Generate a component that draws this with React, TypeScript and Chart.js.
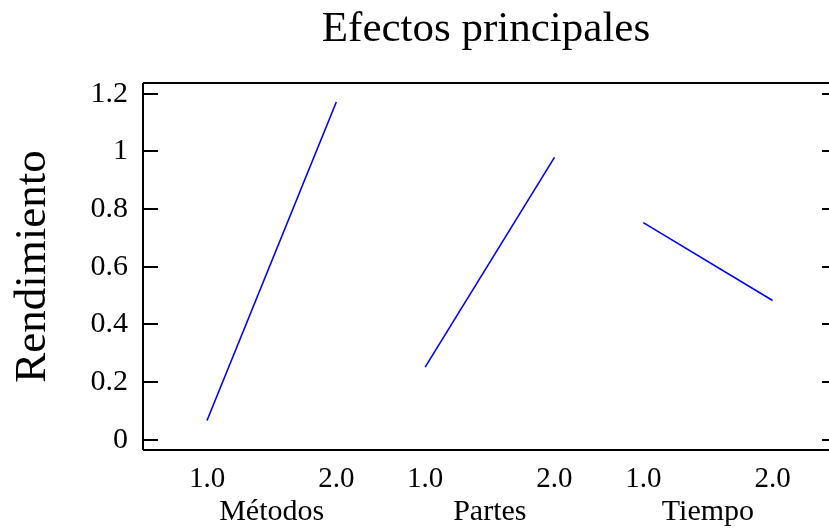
import React, { useEffect, useRef } from "react";
import { Chart, registerables } from "chart.js";

Chart.register(...registerables);

const TITLE = "Efectos principales";
const Y_TITLE = "Rendimiento";
const factors = ["Métodos", "Partes", "Tiempo"];
const levels = [1.0, 2.0];
const levelLabels = ["1.0", "2.0"];
const metodos = [0.067, 1.171];
const partes = [0.252, 0.979];
const tiempo = [0.753, 0.483];
const yTicks = [0, 0.2, 0.4, 0.6, 0.8, 1, 1.2];
const yTickLabels = ["0", "0.2", "0.4", "0.6", "0.8", "1", "1.2"];

const GAP = 1.687;
const FONT = "'Liberation Serif', 'Times New Roman', serif";
const seriesList = [metodos, partes, tiempo];

const framePlugin = {
  id: "frame",
  afterDraw(chart: any) {
    const { ctx, chartArea } = chart;
    const { left, right, top, bottom } = chartArea;
    const y = chart.scales.y;
    const x = chart.scales.x;
    ctx.save();
    ctx.strokeStyle = "#000";
    ctx.lineWidth = 2;
    ctx.beginPath();
    ctx.moveTo(left, top);
    ctx.lineTo(right, top);
    ctx.moveTo(left, top);
    ctx.lineTo(left, bottom);
    ctx.moveTo(left, bottom);
    ctx.lineTo(right, bottom);
    yTicks.forEach((v) => {
      const py = Math.round(y.getPixelForValue(v));
      ctx.moveTo(left, py);
      ctx.lineTo(left + 15, py);
      ctx.moveTo(right - 7, py);
      ctx.lineTo(right, py);
    });
    ctx.stroke();
    ctx.fillStyle = "#000";
    ctx.font = `30px ${FONT}`;
    ctx.textAlign = "center";
    ctx.textBaseline = "alphabetic";
    factors.forEach((f, i) => {
      const a = x.getPixelForValue(levels[0] + i * GAP);
      const b = x.getPixelForValue(levels[1] + i * GAP);
      ctx.fillText(f, (a + b) / 2, 520);
    });
    ctx.restore();
  },
};

export default function App() {
  const ref = useRef<HTMLCanvasElement | null>(null);
  useEffect(() => {
    if (!ref.current) return;
    const datasets = seriesList.map((s, i) => ({
      label: factors[i],
      data: s.map((v, j) => ({ x: levels[j] + i * GAP, y: v })),
      borderColor: "#0000ff",
      borderWidth: 1.6,
      pointRadius: 0,
      tension: 0,
      fill: false,
    }));
    const xTickValues: number[] = [];
    factors.forEach((_, i) => levels.forEach((l) => xTickValues.push(l + i * GAP)));
    const chart = new Chart(ref.current, {
      type: "line",
      data: { datasets },
      plugins: [framePlugin],
      options: {
        animation: false,
        responsive: false,
        devicePixelRatio: 1,
        layout: { padding: { left: 0, right: 0, top: 0, bottom: 0 } },
        plugins: {
          legend: { display: false },
          tooltip: { enabled: false },
          title: {
            display: true,
            text: TITLE,
            fullSize: false,
            color: "#000",
            font: { family: FONT, size: 43, weight: "normal", lineHeight: 1.2 },
            padding: { top: 4, bottom: 27.4 },
          },
        },
        scales: {
          x: {
            type: "linear",
            min: 0.505,
            max: 5.81,
            afterBuildTicks: (scale: any) => {
              scale.ticks = xTickValues.map((v) => ({ value: v }));
            },
            afterFit: (scale: any) => {
              scale.height = 81;
            },
            grid: { display: false, drawTicks: false },
            border: { display: false },
            ticks: {
              color: "#000",
              padding: 12,
              maxRotation: 0,
              autoSkip: false,
              font: { family: FONT, size: 29 },
              callback: (_v: any, idx: number) => levelLabels[idx % 2],
            },
          },
          y: {
            type: "linear",
            min: -0.035,
            max: 1.237,
            afterBuildTicks: (scale: any) => {
              scale.ticks = yTicks.map((v) => ({ value: v }));
            },
            afterFit: (scale: any) => {
              scale.width = 143;
            },
            grid: { display: false, drawTicks: false },
            border: { display: false },
            ticks: {
              color: "#000",
              padding: 15,
              font: { family: FONT, size: 30 },
              callback: (_v: any, idx: number) => yTickLabels[idx],
            },
            title: {
              display: true,
              text: Y_TITLE,
              color: "#000",
              font: { family: FONT, size: 45, weight: "normal", lineHeight: 1.2 },
              padding: { top: 6, bottom: 0 },
            },
          },
        },
      },
    } as any);
    return () => chart.destroy();
  }, []);
  return (
    <div style={{ position: "absolute", left: 0, top: 0, width: 829, height: 531, background: "#fff" }}>
      <canvas ref={ref} width={829} height={531} style={{ display: "block" }} />
    </div>
  );
}
